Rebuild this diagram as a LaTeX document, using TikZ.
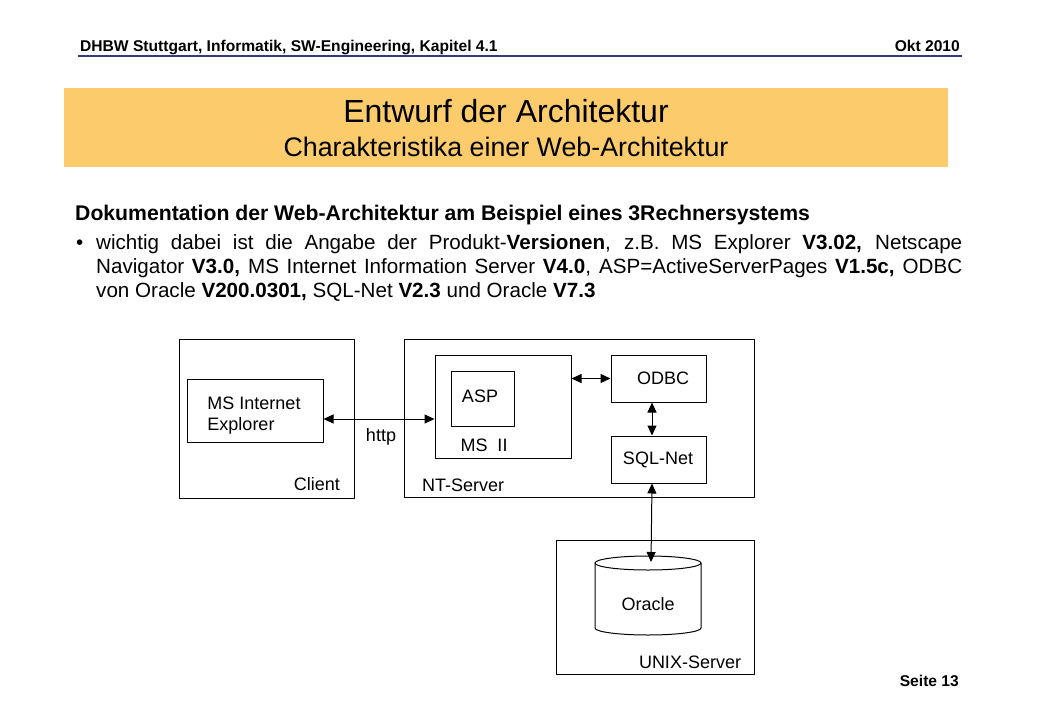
\documentclass[tikz,border=0pt]{standalone}
\usepackage{fontspec}
\setmainfont{Liberation Sans}
\usetikzlibrary{arrows.meta}
\definecolor{titelgelb}{RGB}{252,204,108}
\definecolor{linienblau}{RGB}{58,56,120}

\begin{document}
\begin{tikzpicture}[x=1pt, y=-1pt, line join=round, >={Triangle[length=10pt,width=9pt]},
    box/.style={draw, line width=1pt, inner sep=0pt, font=\fontsize{18}{21}\selectfont},
    lbl/.style={inner sep=0pt, font=\fontsize{18}{21}\selectfont},
    kopf/.style={inner sep=0pt, font=\fontsize{15.6}{18}\selectfont\bfseries},
    zeile/.style={anchor=base west, inner sep=0pt, font=\fontsize{20.6}{24}\selectfont},
    conn/.style={<->, line width=1pt}]
  \useasboundingbox (0,0) rectangle (1040,720);
  % Kopfzeile
  \node[kopf, anchor=base west] (kopflinks) at (80,51) {DHBW Stuttgart, Informatik, SW-Engineering, Kapitel 4.1};
  \node[kopf, anchor=base east] (kopfrechts) at (960,51) {Okt 2010};
  \draw[linienblau, line width=2pt] (78,56) -- (962,56);
  % Titel
  \node[fill=titelgelb, minimum width=884, minimum height=79, inner sep=0pt] (titelbox) at (506,127.5) {};
  \node[inner sep=0pt, font=\fontsize{32}{36}\selectfont] (titel) at (506,111) {Entwurf der Architektur};
  \node[inner sep=0pt, font=\fontsize{26.8}{30}\selectfont] (untertitel) at (506,147) {Charakteristika einer Web-Architektur};
  % Text
  \node[zeile, font=\fontsize{21.2}{24}\selectfont\bfseries] (ueberschrift) at (75,220)
    {Dokumentation der Web-Architektur am Beispiel eines 3Rechnersystems};
  \node[zeile] (punkt) at (76,249) {\textbullet};
  \node[zeile] (z1) at (96,249) {\makebox[866pt][s]{wichtig dabei ist die Angabe der Produkt-\textbf{Versionen}, z.B. MS Explorer \textbf{V3.02,} Netscape}};
  \node[zeile] (z2) at (96,273) {\makebox[866pt][s]{Navigator \textbf{V3.0,} MS Internet Information Server \textbf{V4.0}, ASP=ActiveServerPages \textbf{V1.5c,} ODBC}};
  \node[zeile] (z3) at (96,297) {von Oracle \textbf{V200.0301,} SQL-Net \textbf{V2.3} und Oracle \textbf{V7.3}};
  % Rechner
  \node[box, minimum width=175, minimum height=159] (client) at (266.5,418.5) {};
  \node[box, minimum width=350, minimum height=158] (ntserver) at (579,418) {};
  \node[box, minimum width=198, minimum height=134] (unixserver) at (655,607) {};
  \node[lbl, anchor=base] (clientlbl) at (317,490) {Client};
  \node[lbl, anchor=base west] (ntlbl) at (422,491) {NT-Server};
  \node[lbl, anchor=base] (unixlbl) at (690,668) {UNIX-Server};
  % Komponenten
  \node[box, minimum width=136, minimum height=63] (ie) at (255,410.5) {};
  \node[lbl, align=left] (ielbl) at (254,415.5) {MS Internet\\Explorer};
  \node[box, minimum width=136, minimum height=103] (msii) at (503,406.5) {};
  \node[box, minimum width=63, minimum height=55] (asp) at (482.5,398.5) {};
  \node[lbl] (asplbl) at (480,396) {ASP};
  \node[lbl, anchor=base] (msiilbl) at (484,451) {MS\ \ II};
  \node[box, minimum width=95, minimum height=47] (odbc) at (658.5,378.5) {};
  \node[lbl] (odbclbl) at (663,378) {ODBC};
  \node[box, minimum width=95, minimum height=47] (sqlnet) at (658.5,459.5) {};
  \node[lbl] (sqlnetlbl) at (658,460) {SQL-Net};
  % Datenbank
  \draw[line width=1pt] (595,563) -- (595,628) arc[start angle=180, end angle=0, x radius=53, y radius=7] -- (701,563);
  \draw[line width=1pt] (648,563) ellipse [x radius=53, y radius=7];
  \node[lbl] (oracle) at (648,604) {Oracle};
  \coordinate (oracleoben) at (651,562);
  % Verbindungen
  \coordinate (httpy) at (0,419);
  \coordinate (vx) at (652,0);
  \draw[conn] (ie.east |- httpy) -- (msii.west |- httpy);
  \node[lbl] (http) at (381,437) {http};
  \draw[conn] (msii.east |- odbc) -- (odbc.west);
  \draw[conn] (vx |- odbc.south) -- (vx |- sqlnet.north);
  \draw[conn] (vx |- sqlnet.south) -- (oracleoben);
  % Fusszeile
  \node[kopf, anchor=base east] (seite) at (959,686) {Seite 13};
\end{tikzpicture}
\end{document}
